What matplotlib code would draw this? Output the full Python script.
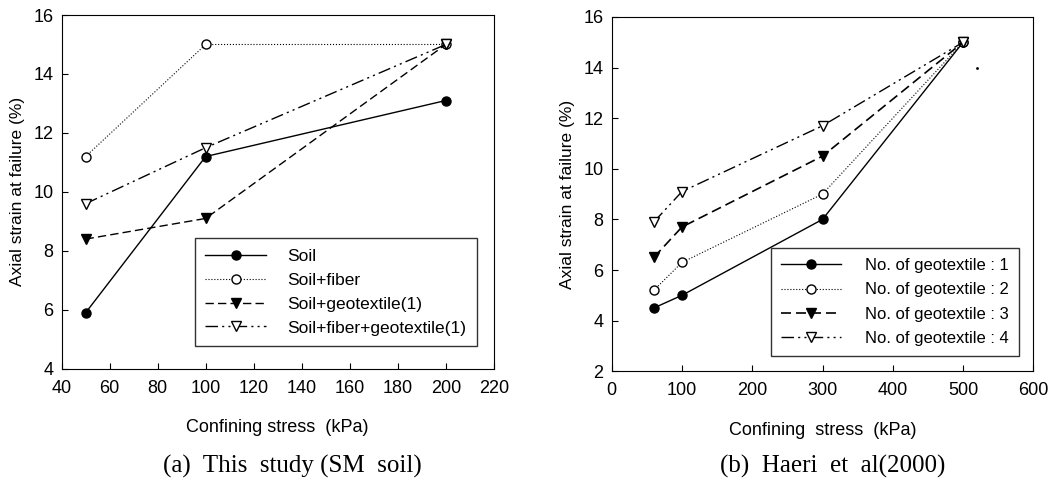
import matplotlib
matplotlib.use('Agg')
import matplotlib.pyplot as plt

plt.rcParams.update({'font.family': 'Liberation Sans', 'xtick.direction': 'in', 'ytick.direction': 'in',
                     'xtick.major.size': 4, 'ytick.major.size': 4})

# (a) this study
stress_a = [50, 100, 200]
soil = [5.9, 11.2, 13.1]
soil_fiber = [11.2, 15.0, 15.0]
soil_geo = [8.4, 9.1, 15.0]
soil_fiber_geo = [9.6, 11.5, 15.0]

# (b) Haeri et al (2000)
stress_b = [60, 100, 300, 500]
geo1 = [4.5, 5.0, 8.0, 15.0]
geo2 = [5.2, 6.3, 9.0, 15.0]
geo3 = [6.5, 7.7, 10.5, 15.0]
geo4 = [7.9, 9.1, 11.7, 15.0]

dashdotdot = (0, (9, 3, 1.5, 3, 1.5, 3))

fig = plt.figure(figsize=(10.62, 4.84), dpi=100)
ax1 = fig.add_axes([0.058, 0.238, 0.407, 0.731])
ax2 = fig.add_axes([0.576, 0.233, 0.397, 0.732])

ms = 6.5
ax1.plot(stress_a, soil, color='black', linestyle='-', marker='o', markersize=ms, lw=1.0, label='Soil')
ax1.plot(stress_a, soil_fiber, color='black', linestyle=':', marker='o', markerfacecolor='white', markersize=ms, lw=0.8, label='Soil+fiber')
ax1.plot(stress_a, soil_geo, color='black', linestyle=(0, (6, 3)), marker='v', markersize=ms, lw=1.0, label='Soil+geotextile(1)')
ax1.plot(stress_a, soil_fiber_geo, color='black', linestyle=dashdotdot, marker='v', markerfacecolor='white', markersize=ms, lw=1.0, label='Soil+fiber+geotextile(1)')
ax1.set_xlim(40, 220)
ax1.set_ylim(4, 16)
ax1.set_xticks(range(40, 221, 20))
ax1.set_yticks(range(4, 17, 2))
ax1.tick_params(axis='x', labelsize=13, pad=8)
ax1.tick_params(axis='y', labelsize=13, pad=6)
ax1.set_xlabel('Confining stress  (kPa)', fontsize=13, labelpad=16)
ax1.set_ylabel('Axial strain at failure (%)', fontsize=12.5, labelpad=6)
leg1 = ax1.legend(loc='lower right', bbox_to_anchor=(0.98, 0.04), fontsize=12.5, frameon=True, fancybox=False,
                  edgecolor='black', handlelength=3.5, handletextpad=1.2, labelspacing=0.5, borderpad=0.6)
leg1.get_frame().set_linewidth(1.0)

ax2.plot(stress_b, geo1, color='black', linestyle='-', marker='o', markersize=ms, lw=1.0, label='No. of geotextile : 1')
ax2.plot(stress_b, geo2, color='black', linestyle=':', marker='o', markerfacecolor='white', markersize=ms, lw=0.8, label='No. of geotextile : 2')
ax2.plot(stress_b, geo3, color='black', linestyle=(0, (6, 3)), marker='v', markersize=ms, lw=1.2, label='No. of geotextile : 3')
ax2.plot(stress_b, geo4, color='black', linestyle=dashdotdot, marker='v', markerfacecolor='white', markersize=ms, lw=1.0, label='No. of geotextile : 4')
ax2.plot([520], [14.0], 'k.', markersize=2)
ax2.set_xlim(0, 600)
ax2.set_ylim(2, 16)
ax2.set_xticks(range(0, 601, 100))
ax2.set_yticks(range(2, 17, 2))
ax2.tick_params(axis='x', labelsize=13, pad=8)
ax2.tick_params(axis='y', labelsize=13, pad=6)
ax2.set_xlabel('Confining  stress  (kPa)', fontsize=13, labelpad=16)
ax2.set_ylabel('Axial strain at failure (%)', fontsize=12.5, labelpad=6)
leg2 = ax2.legend(loc='lower right', bbox_to_anchor=(0.985, 0.02), fontsize=12, frameon=True, fancybox=False,
                  edgecolor='black', handlelength=3.6, handletextpad=1.4, labelspacing=0.55, borderpad=0.6)
leg2.get_frame().set_linewidth(1.0)

fig.text(0.275, 0.012, '(a)  This  study (SM  soil)', ha='center', va='bottom', fontsize=18, family='Liberation Serif')
fig.text(0.784, 0.012, '(b)  Haeri  et  al(2000)', ha='center', va='bottom', fontsize=18, family='Liberation Serif')

fig.savefig('out.png', dpi=100)
